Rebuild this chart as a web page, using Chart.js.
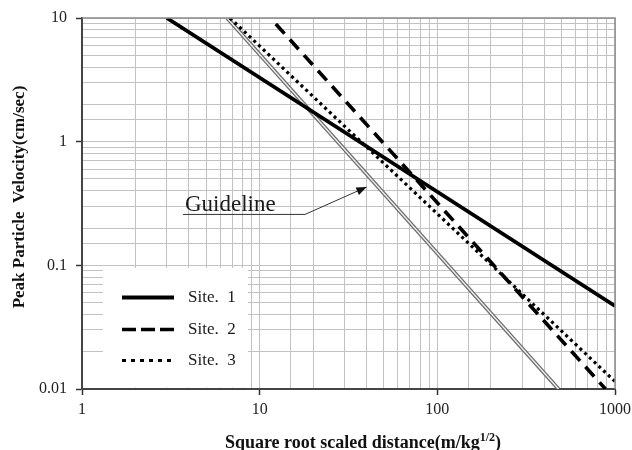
<!DOCTYPE html>
<html>
<head>
<meta charset="utf-8">
<script src="https://cdn.jsdelivr.net/npm/chart.js@4"></script>
<style>
  html, body { margin: 0; padding: 0; background: #fff; }
  #chart { display: block; }
</style>
</head>
<body>
<canvas id="chart" width="632" height="450"></canvas>
<script>
// Values (end points of each straight line on log-log axes)
const site1X = [3.0, 1000];
const site1Y = [10, 0.047];
const site2X = [11.5, 884];
const site2Y = [10, 0.01];
const site3X = [6.8, 1000];
const site3Y = [10, 0.0115];
const guideX = [6.56, 481];
const guideY = [10, 0.01];

const seriesLabels = ['Site.  1', 'Site.  2', 'Site.  3'];
const xLimits = [1, 1000];
const yLimits = [0.01, 10];

// anchor of the "Guideline" note: underline start, underline end, arrow tip
const noteX = [3.7, 18, 40];
const noteY = [0.258, 0.258, 0.43];

const SERIF = '"Liberation Serif", "DejaVu Serif", serif';

function pts(xs, ys) {
    return xs.map((x, i) => ({ x: x, y: ys[i] }));
}

function isPow10(v) {
    const l = Math.log10(v);
    return Math.abs(l - Math.round(l)) < 1e-9;
}

// white box with sample lines, like the original legend
const legendBox = {
    id: 'legendBox',
    afterDatasetsDraw(chart) {
        const { ctx, chartArea } = chart;
        ctx.save();
        ctx.fillStyle = '#fff';
        ctx.fillRect(103, 268, 145, chartArea.bottom - 268 - 1.5);
        const rows = [297.5, 329.5, 360.5];
        chart.data.datasets.filter(d => d.inLegend).forEach((d, i) => {
            const y = rows[i];
            ctx.strokeStyle = d.borderColor;
            ctx.lineWidth = d.borderWidth;
            ctx.setLineDash(d.legendDash || []);
            ctx.beginPath();
            ctx.moveTo(122, y);
            ctx.lineTo(174, y);
            ctx.stroke();
            ctx.setLineDash([]);
            ctx.fillStyle = '#1a1a1a';
            ctx.font = '17px ' + SERIF;
            ctx.textBaseline = 'middle';
            ctx.textAlign = 'left';
            ctx.fillText(d.label, 188, y);
        });
        ctx.restore();
    }
};

// axis titles (x title has a superscript) and the guideline note
const extras = {
    id: 'extras',
    afterDraw(chart) {
        const { ctx, chartArea, scales } = chart;
        ctx.save();
        // outer frame, top and right
        ctx.strokeStyle = '#8a8a8a';
        ctx.lineWidth = 1.5;
        ctx.beginPath();
        ctx.moveTo(chartArea.left, chartArea.top);
        ctx.lineTo(chartArea.right, chartArea.top);
        ctx.lineTo(chartArea.right, chartArea.bottom);
        ctx.stroke();

        // y title
        ctx.fillStyle = '#111';
        ctx.font = 'bold 17px ' + SERIF;
        ctx.textAlign = 'center';
        ctx.textBaseline = 'middle';
        ctx.translate(20, 197);
        ctx.rotate(-Math.PI / 2);
        ctx.fillText('Peak Particle  Velocity(cm/sec)', 0, 0);
        ctx.setTransform(1, 0, 0, 1, 0, 0);

        // x title with superscript
        const main = 'Square root scaled distance(m/kg';
        const sup = '1/2';
        const tail = ')';
        ctx.textBaseline = 'alphabetic';
        ctx.textAlign = 'left';
        ctx.font = 'bold 18px ' + SERIF;
        const wMain = ctx.measureText(main).width;
        const wTail = ctx.measureText(tail).width;
        ctx.font = 'bold 12px ' + SERIF;
        const wSup = ctx.measureText(sup).width;
        let x = 363 - (wMain + wSup + wTail) / 2;
        const base = 448;
        ctx.font = 'bold 18px ' + SERIF;
        ctx.fillText(main, x, base);
        x += wMain;
        ctx.font = 'bold 12px ' + SERIF;
        ctx.fillText(sup, x, base - 7);
        x += wSup;
        ctx.font = 'bold 18px ' + SERIF;
        ctx.fillText(tail, x, base);

        // Guideline note
        const sx = scales.x, sy = scales.y;
        const p = noteX.map((v, i) => [sx.getPixelForValue(v), sy.getPixelForValue(noteY[i])]);
        ctx.fillStyle = '#1a1a1a';
        ctx.font = '23px ' + SERIF;
        ctx.fillText('Guideline', p[0][0] + 2, p[0][1] - 3);
        ctx.strokeStyle = '#333';
        ctx.lineWidth = 1;
        ctx.beginPath();
        ctx.moveTo(p[0][0], p[0][1]);
        ctx.lineTo(p[1][0], p[1][1]);
        ctx.lineTo(p[2][0], p[2][1]);
        ctx.stroke();
        const ang = Math.atan2(p[2][1] - p[1][1], p[2][0] - p[1][0]);
        ctx.fillStyle = '#111';
        ctx.beginPath();
        ctx.moveTo(p[2][0], p[2][1]);
        ctx.lineTo(p[2][0] - 11 * Math.cos(ang - 0.38), p[2][1] - 11 * Math.sin(ang - 0.38));
        ctx.lineTo(p[2][0] - 11 * Math.cos(ang + 0.38), p[2][1] - 11 * Math.sin(ang + 0.38));
        ctx.closePath();
        ctx.fill();
        ctx.restore();
    }
};

const tickColor = c => (c.tick && isPow10(c.tick.value)) ? '#333' : 'rgba(0,0,0,0)';

new Chart(document.getElementById('chart'), {
    type: 'scatter',
    data: {
        datasets: [
            {
                label: seriesLabels[0], data: pts(site1X, site1Y), inLegend: true,
                borderColor: '#000', borderWidth: 3.8, showLine: true, pointRadius: 0, order: 1
            },
            {
                label: seriesLabels[1], data: pts(site2X, site2Y), inLegend: true,
                borderColor: '#000', borderWidth: 3.6, borderDash: [13, 8], borderDashOffset: 13,
                legendDash: [14, 5], showLine: true, pointRadius: 0, order: 1
            },
            {
                label: seriesLabels[2], data: pts(site3X, site3Y), inLegend: true,
                borderColor: '#000', borderWidth: 3.2, borderDash: [3, 3.5], legendDash: [4, 5],
                showLine: true, pointRadius: 0, order: 1
            },
            {
                label: 'Guideline', data: pts(guideX, guideY),
                borderColor: '#f2f2f2', borderWidth: 1.3, showLine: true, pointRadius: 0, order: 2
            },
            {
                label: 'Guideline', data: pts(guideX, guideY),
                borderColor: '#6e6e6e', borderWidth: 4, showLine: true, pointRadius: 0, order: 3
            }
        ]
    },
    options: {
        responsive: false,
        animation: false,
        devicePixelRatio: 1,
        layout: { padding: { left: 0, right: 17, top: 18, bottom: 0 } },
        plugins: { legend: { display: false }, tooltip: { enabled: false } },
        scales: {
            x: {
                type: 'logarithmic',
                min: xLimits[0], max: xLimits[1],
                afterFit: s => { s.height = 61; s.paddingLeft = 0; s.paddingRight = 0; },
                border: { color: '#444', width: 2 },
                grid: { color: '#c2c2c2', lineWidth: 1, tickLength: 6, tickColor: tickColor, tickWidth: 1.5 },
                ticks: {
                    autoSkip: false, maxRotation: 0, padding: 5,
                    color: '#222', font: { family: SERIF, size: 16 },
                    callback: v => isPow10(v) ? String(v) : ''
                }
            },
            y: {
                type: 'logarithmic',
                min: yLimits[0], max: yLimits[1],
                afterFit: s => { s.width = 82; s.paddingTop = 0; s.paddingBottom = 0; },
                border: { color: '#444', width: 2 },
                grid: { color: '#c2c2c2', lineWidth: 1, tickLength: 6, tickColor: tickColor, tickWidth: 1.5 },
                ticks: {
                    autoSkip: false, padding: 9,
                    color: '#222', font: { family: SERIF, size: 16 },
                    callback: v => isPow10(v) ? String(v) : ''
                }
            }
        }
    },
    plugins: [legendBox, extras]
});
</script>
</body>
</html>
